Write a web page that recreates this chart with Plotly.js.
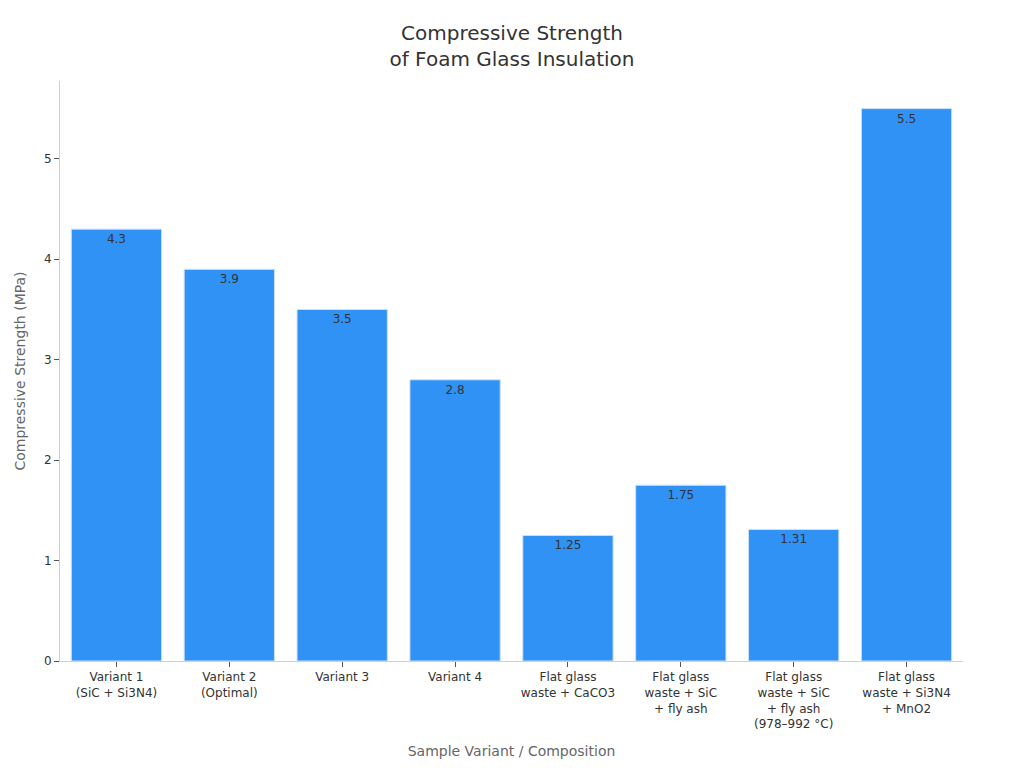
<!DOCTYPE html>
<html>
<head>
<meta charset="utf-8">
<script src="https://cdn.plot.ly/plotly-3.0.1.min.js"></script>
<style>
  body { margin: 0; }
  #myDiv { width: 1024px; height: 768px; }
</style>
</head>
<body>
<div id="myDiv"></div>
<script>
var variants = [
  'Variant 1<br>(SiC + Si3N4)',
  'Variant 2<br>(Optimal)',
  'Variant 3',
  'Variant 4',
  'Flat glass<br>waste + CaCO3',
  'Flat glass<br>waste + SiC<br>+ fly ash',
  'Flat glass<br>waste + SiC<br>+ fly ash<br>(978–992 °C)',
  'Flat glass<br>waste + Si3N4<br>+ MnO2'
];
var strength = [4.3, 3.9, 3.5, 2.8, 1.25, 1.75, 1.31, 5.5];
var strengthLabels = ['4.3', '3.9', '3.5', '2.8', '1.25', '1.75', '1.31', '5.5'];

var bars = {
  type: 'bar',
  x: variants,
  y: strength,
  text: strengthLabels,
  textposition: 'inside',
  insidetextanchor: 'end',
  textfont: { family: 'DejaVu Sans', size: 12, color: '#333333' },
  marker: {
    color: '#3092f5',
    line: { color: '#c9e2fb', width: 1 }
  },
  hoverinfo: 'x+y'
};

var layout = {
  width: 1024,
  height: 768,
  margin: { l: 60, r: 61, t: 81, b: 107 },
  font: { family: 'DejaVu Sans', color: '#333333' },
  paper_bgcolor: 'white',
  plot_bgcolor: 'white',
  bargap: 0.2,
  showlegend: false,
  title: {
    text: 'Compressive Strength<br>of Foam Glass Insulation',
    font: { family: 'DejaVu Sans', size: 20, color: '#333333' },
    x: 0.5,
    xanchor: 'center',
    y: 0.948,
    yanchor: 'top'
  },
  xaxis: {
    title: {
      text: 'Sample Variant / Composition',
      font: { family: 'DejaVu Sans', size: 14, color: '#666666' },
      standoff: 15
    },
    tickfont: { family: 'DejaVu Sans', size: 12, color: '#333333' },
    showline: true,
    linecolor: '#d0d0d0',
    linewidth: 1,
    ticks: 'outside',
    ticklen: 5,
    tickcolor: '#555555',
    showgrid: false,
    automargin: false
  },
  yaxis: {
    title: {
      text: 'Compressive Strength (MPa)',
      font: { family: 'DejaVu Sans', size: 14, color: '#666666' },
      standoff: 15
    },
    range: [0, 5.775],
    tickvals: [0, 1, 2, 3, 4, 5],
    tickfont: { family: 'DejaVu Sans', size: 12, color: '#333333' },
    showline: true,
    linecolor: '#d0d0d0',
    linewidth: 1,
    ticks: 'outside',
    ticklen: 5,
    tickcolor: '#555555',
    showgrid: false,
    zeroline: false,
    automargin: false
  }
};

Plotly.newPlot('myDiv', [bars], layout, { displayModeBar: false });
</script>
</body>
</html>
